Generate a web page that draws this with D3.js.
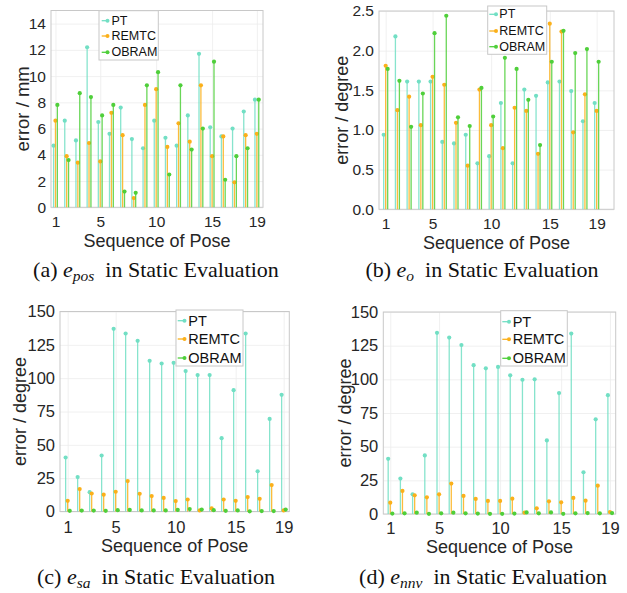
<!DOCTYPE html>
<html>
<head>
<meta charset="utf-8">
<script src="https://cdn.jsdelivr.net/npm/d3@7"></script>
<style>
  body { margin: 0; background: white; }
  svg { display: block; }
</style>
</head>
<body>
<svg id="fig" width="627" height="593"></svg>
<script>
// pose index 1..19
const poses = [1, 2, 3, 4, 5, 6, 7, 8, 9, 10, 11, 12, 13, 14, 15, 16, 17, 18, 19];
const xTicks = [1, 5, 10, 15, 19];
const seriesNames = ["PT", "REMTC", "OBRAM"];

// (a) e_pos
const posPT = [4.7, 6.6, 5.1, 12.2, 6.5, 5.6, 7.6, 5.2, 4.5, 6.6, 5.3, 4.7, 7.0, 11.7, 6.1, 5.4, 6.0, 7.3, 8.2];
const posREMTC = [6.6, 3.9, 3.4, 4.9, 3.5, 7.2, 5.5, 0.7, 7.8, 9.0, 4.6, 6.4, 5.0, 9.3, 3.9, 5.4, 1.9, 5.5, 5.6];
const posOBRAM = [7.8, 3.6, 8.7, 8.4, 7.0, 7.8, 1.2, 1.1, 9.3, 10.3, 2.5, 9.3, 4.4, 6.0, 11.1, 2.1, 3.9, 4.5, 8.2];
const posTicks = [0, 2, 4, 6, 8, 10, 12, 14];

// (b) e_o
const oPT = [0.94, 2.18, 1.61, 1.61, 1.61, 0.85, 0.83, 0.94, 0.58, 0.67, 1.34, 0.58, 1.51, 1.43, 1.60, 1.61, 1.49, 1.11, 1.34];
const oREMTC = [1.81, 1.25, 1.42, 1.06, 1.67, 1.57, 1.09, 0.55, 1.51, 1.06, 0.77, 1.28, 1.24, 0.70, 2.34, 2.24, 0.97, 1.45, 1.24];
const oOBRAM = [1.77, 1.62, 1.04, 1.46, 2.22, 2.44, 1.16, 1.05, 1.53, 1.17, 1.91, 1.77, 1.38, 0.81, 1.86, 2.25, 1.97, 2.02, 1.86];
const oTicks = [0, 0.5, 1, 1.5, 2, 2.5];

// (c) e_sa
const saPT = [40.5, 25.8, 14.5, 42.0, 137.0, 133.5, 128.0, 113.0, 111.0, 111.5, 105.3, 102.3, 102.3, 55.0, 91.0, 133.5, 30.2, 69.4, 87.5];
const saREMTC = [8.0, 16.8, 13.5, 12.6, 14.8, 22.8, 13.3, 11.6, 10.2, 7.8, 9.0, 0.8, 2.3, 9.0, 8.0, 10.8, 9.5, 19.8, 0.8];
const saOBRAM = [0.5, 0.7, 0.7, 0.5, 1.0, 1.2, 0.8, 0.8, 0.8, 1.2, 1.8, 1.5, 1.0, 0.5, 0.8, 0.1, 0.3, 0.3, 1.5];
const degTicks = [0, 25, 50, 75, 100, 125, 150];

// (d) e_nnv
const nnvPT = [41.0, 26.3, 14.6, 43.5, 134.5, 131.0, 125.5, 110.5, 108.2, 109.2, 103.0, 99.7, 100.0, 54.6, 89.8, 134.0, 31.0, 70.3, 88.2];
const nnvREMTC = [8.4, 17.1, 13.9, 12.4, 14.6, 22.6, 13.4, 11.2, 9.7, 9.7, 11.4, 1.0, 4.2, 9.4, 8.7, 11.9, 9.9, 21.0, 1.5];
const nnvOBRAM = [0.3, 0.5, 1.0, 0.1, 0.5, 1.0, 0.5, 0.3, 0.1, 0.1, 0.3, 1.2, 0.5, 1.2, 0.1, 0.5, 0.7, 0.5, 0.7];

const colors = { PT: "#72dfc4", REMTC: "#fbb01a", OBRAM: "#4fcf3a" };
const offsets = { PT: -0.17, REMTC: 0, OBRAM: 0.17 };

const svg = d3.select("#fig");

const panels = [
  {
    box: { left: 51, right: 263, top: 10.5, bottom: 207.3 },
    xDomain: [0.6, 19.55], yDomain: [0, 15], yTicks: posTicks,
    data: { PT: posPT, REMTC: posREMTC, OBRAM: posOBRAM },
    yLabel: "error / mm", yLabelX: 22, yLabelSize: 18.5, xLabelY: 247, xLabelSize: 18,
    tickY: 222, tickSize: 15.5,
    legend: { x: 99, y: 10.7, w: 59.3, h: 49.3, rows: [20.7, 36, 52.3], line: [101.7, 108], textX: 111.5, size: 12.5 },
    caption: { x: 156, y: 277, tag: "(a) ", sub: "pos" },
  },
  {
    box: { left: 379, right: 614, top: 11, bottom: 209.3 },
    xDomain: [0.43, 20.48], yDomain: [0, 2.5], yTicks: oTicks,
    data: { PT: oPT, REMTC: oREMTC, OBRAM: oOBRAM },
    yLabel: "error / degree", yLabelX: 342, yLabelSize: 18, xLabelY: 248.5, xLabelSize: 18,
    tickY: 223.5, tickSize: 15.5,
    legend: { x: 487.7, y: 6, w: 59, h: 48.3, rows: [14.3, 31, 46.7], line: [489.3, 496.5], textX: 499.3, size: 12.5 },
    caption: { x: 482, y: 277, tag: "(b) ", sub: "o" },
  },
  {
    box: { left: 60, right: 289.3, top: 311.5, bottom: 511.5 },
    xDomain: [0.36, 19.47], yDomain: [0, 150], yTicks: degTicks,
    data: { PT: saPT, REMTC: saREMTC, OBRAM: saOBRAM },
    yLabel: "error / degree", yLabelX: 20, yLabelSize: 18, xLabelY: 552, xLabelSize: 18,
    tickY: 526.5, tickSize: 16.5,
    legend: { x: 176, y: 310, w: 67, h: 56, rows: [320.7, 339, 358], line: [177.7, 185], textX: 188.3, size: 14.5 },
    caption: { x: 156, y: 584, tag: "(c) ", sub: "sa" },
  },
  {
    box: { left: 383.3, right: 615.7, top: 312, bottom: 514 },
    xDomain: [0.43, 19.47], yDomain: [0, 150], yTicks: degTicks,
    data: { PT: nnvPT, REMTC: nnvREMTC, OBRAM: nnvOBRAM },
    yLabel: "error / degree", yLabelX: 345, yLabelSize: 18, xLabelY: 553, xLabelSize: 18,
    tickY: 527.5, tickSize: 16.5,
    legend: { x: 500.7, y: 310.7, w: 66.6, h: 55.3, rows: [321.7, 339.3, 358.3], line: [502.3, 509.5], textX: 512.7, size: 14.5 },
    caption: { x: 483, y: 584, tag: "(d) ", sub: "nnv" },
  },
];

panels.forEach(drawPanel);

function drawPanel(p) {
  const b = p.box;
  const x = d3.scaleLinear().domain(p.xDomain).range([b.left, b.right]);
  const y = d3.scaleLinear().domain(p.yDomain).range([b.bottom, b.top]);
  const g = svg.append("g");

  // grid
  g.append("g")
    .attr("transform", `translate(0,${b.bottom})`)
    .call(d3.axisBottom(x).tickValues(xTicks).tickSize(-(b.bottom - b.top)).tickFormat(""))
    .call((s) => s.select(".domain").remove())
    .selectAll("line").attr("stroke", "#ececec").attr("stroke-width", 0.8);
  g.append("g")
    .attr("transform", `translate(${b.left},0)`)
    .call(d3.axisLeft(y).tickValues(p.yTicks).tickSize(-(b.right - b.left)).tickFormat(""))
    .call((s) => s.select(".domain").remove())
    .selectAll("line").attr("stroke", "#ececec").attr("stroke-width", 0.8);

  // box
  g.append("rect")
    .attr("x", b.left).attr("y", b.top)
    .attr("width", b.right - b.left).attr("height", b.bottom - b.top)
    .attr("fill", "none").attr("stroke", "#c8c8c8").attr("stroke-width", 1);

  // tick labels
  const xAx = g.append("g")
    .attr("transform", `translate(0,${b.bottom})`)
    .call(d3.axisBottom(x).tickValues(xTicks).tickSize(0).tickPadding(0));
  xAx.selectAll("text")
    .attr("y", p.tickY - b.bottom)
    .attr("dy", null)
    .attr("dominant-baseline", "central");
  const yAx = g.append("g")
    .attr("transform", `translate(${b.left},0)`)
    .call(d3.axisLeft(y).tickValues(p.yTicks).tickSize(0).tickPadding(5));
  [xAx, yAx].forEach((a) => {
    a.select(".domain").remove();
    a.selectAll("text")
      .attr("font-family", "Liberation Sans, Arial, sans-serif")
      .attr("font-size", p.tickSize)
      .attr("fill", "#262626");
  });

  // stems
  seriesNames.forEach((name) => {
    const vals = p.data[name];
    const sg = g.append("g");
    sg.selectAll("line")
      .data(poses)
      .enter()
      .append("line")
      .attr("x1", (d) => x(d + offsets[name]))
      .attr("x2", (d) => x(d + offsets[name]))
      .attr("y1", y(0))
      .attr("y2", (d, i) => y(vals[i]))
      .attr("stroke", colors[name])
      .attr("stroke-opacity", 0.85)
      .attr("stroke-width", 1.3);
    sg.selectAll("circle")
      .data(poses)
      .enter()
      .append("circle")
      .attr("cx", (d) => x(d + offsets[name]))
      .attr("cy", (d, i) => y(vals[i]))
      .attr("r", 2.1)
      .attr("fill", colors[name]);
  });

  // axis labels
  g.append("text")
    .attr("transform", `translate(${p.yLabelX},${(b.top + b.bottom) / 2}) rotate(-90)`)
    .attr("text-anchor", "middle")
    .attr("dominant-baseline", "central")
    .attr("font-family", "Liberation Sans, Arial, sans-serif")
    .attr("font-size", p.yLabelSize)
    .attr("fill", "#262626")
    .text(p.yLabel);
  g.append("text")
    .attr("x", (b.left + b.right) / 2)
    .attr("y", p.xLabelY)
    .attr("text-anchor", "middle")
    .attr("font-family", "Liberation Sans, Arial, sans-serif")
    .attr("font-size", p.xLabelSize)
    .attr("fill", "#262626")
    .text("Sequence of Pose");

  drawLegend(g, p.legend);
  drawCaption(p.caption);
}

function drawLegend(g, L) {
  g.append("rect")
    .attr("x", L.x).attr("y", L.y).attr("width", L.w).attr("height", L.h)
    .attr("fill", "white").attr("stroke", "#c8c8c8").attr("stroke-width", 1);
  seriesNames.forEach((name, i) => {
    const cy = L.rows[i];
    g.append("line")
      .attr("x1", L.line[0]).attr("x2", L.line[1])
      .attr("y1", cy).attr("y2", cy)
      .attr("stroke", colors[name]).attr("stroke-width", 1.3);
    g.append("circle")
      .attr("cx", L.line[1] - 0.5).attr("cy", cy).attr("r", 2)
      .attr("fill", colors[name]);
    g.append("text")
      .attr("x", L.textX).attr("y", cy)
      .attr("dominant-baseline", "central")
      .attr("font-family", "Liberation Sans, Arial, sans-serif")
      .attr("font-size", L.size)
      .attr("fill", "#111")
      .text(name);
  });
}

function drawCaption(c) {
  const t = svg.append("text")
    .attr("x", c.x).attr("y", c.y)
    .attr("text-anchor", "middle")
    .attr("font-family", "Liberation Serif, Times New Roman, serif")
    .attr("font-size", 22)
    .attr("fill", "#111");
  t.append("tspan").text(c.tag);
  t.append("tspan").attr("font-style", "italic").text("e");
  t.append("tspan").attr("font-style", "italic").attr("font-size", 15.5).attr("dy", 3.5).text(c.sub);
  t.append("tspan").attr("dy", -3.5).text("\u2002in Static Evaluation");
}
</script>
</body>
</html>
